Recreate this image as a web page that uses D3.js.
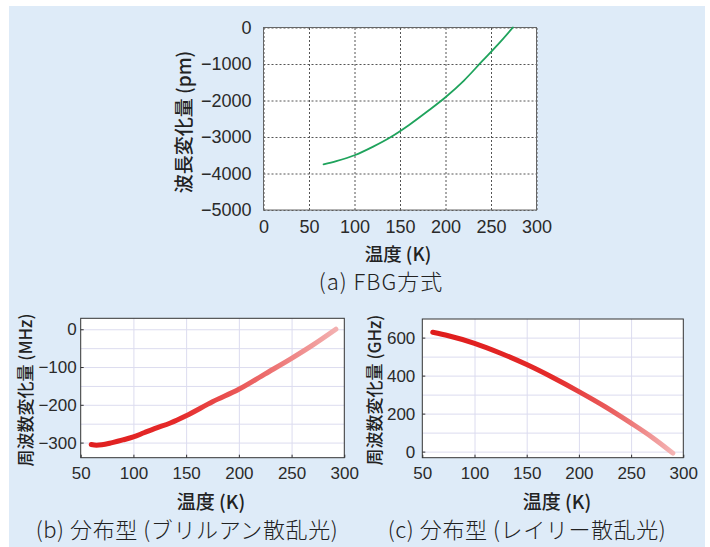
<!DOCTYPE html>
<html><head><meta charset="utf-8">
<script src="https://cdn.jsdelivr.net/npm/d3@7"></script>
<style>
body{margin:0;background:#fff;}
svg{display:block;}
</style></head>
<body>
<svg id="c" width="710" height="547"></svg>
<script>
// ---- data ----
const fbgT = [66, 80, 100, 120, 140, 160, 180, 200, 220, 240, 260, 274];
const fbgV = [-3750, -3660, -3500, -3270, -3000, -2670, -2300, -1910, -1460, -930, -400, 0];
const brT = [60, 65, 70, 80, 90, 100, 110, 120, 135, 150, 175, 200, 225, 250, 270, 292];
const brV = [-305, -307, -306, -300, -293, -285, -274, -263, -248, -229, -192, -159, -118, -77, -42, 0];
const rlT = [60, 75, 100, 125, 150, 175, 200, 225, 250, 270, 290];
const rlV = [628, 610, 570, 518, 458, 390, 316, 237, 150, 76, -8];
const fbgXTicks = [0, 50, 100, 150, 200, 250, 300];
const fbgYTicks = [0, -1000, -2000, -3000, -4000, -5000];
const bXTicks = [50, 100, 150, 200, 250, 300];
const brYTicks = [0, -100, -200, -300];
const rlYTicks = [0, 200, 400, 600];
const titles = {
  a: {y: "波長変化量 (pm)", x: "温度 (K)", cap: "(a) FBG方式"},
  b: {y: "周波数変化量 (MHz)", x: "温度 (K)", cap: "(b) 分布型 (ブリルアン散乱光)"},
  c: {y: "周波数変化量 (GHz)", x: "温度 (K)", cap: "(c) 分布型 (レイリー散乱光)"}
};

const svg = d3.select("#c");
const NUM = "'Liberation Sans', Arial, sans-serif";
const JP = "'Noto Sans CJK JP', sans-serif";
const fmt = d => (d < 0 ? "\u2212" + Math.abs(d) : String(d));

svg.append("rect").attr("x", 9).attr("y", 6).attr("width", 696).attr("height", 541).attr("fill", "#deebf8");

const defs = svg.append("defs");

function panel(o) {
  const x = d3.scaleLinear().domain(o.xd).range([o.x0, o.x1]);
  const y = d3.scaleLinear().domain(o.yd).range([o.y1, o.y0]);
  const g = svg.append("g");
  g.append("rect").attr("x", o.x0).attr("y", o.y0).attr("width", o.x1 - o.x0).attr("height", o.y1 - o.y0).attr("fill", "#fff");
  // grid
  const gx = g.append("g").attr("transform", `translate(0,${o.y1})`)
    .call(d3.axisBottom(x).tickValues(o.gridX).tickSize(-(o.y1 - o.y0)).tickFormat(""));
  const gy = g.append("g").attr("transform", `translate(${o.x0},0)`)
    .call(d3.axisLeft(y).tickValues(o.gridY).tickSize(-(o.x1 - o.x0)).tickFormat(""));
  [gx, gy].forEach(a => {
    a.select(".domain").remove();
    a.selectAll("line").attr("stroke", o.gridColor).attr("stroke-width", 1).attr("stroke-dasharray", o.gridDash || null);
  });
  // axes with labels
  const ax = g.append("g").attr("transform", `translate(0,${o.y1})`)
    .call(d3.axisBottom(x).tickValues(o.xTicks).tickSize(o.tick).tickPadding(o.xPad).tickFormat(fmt));
  const ay = g.append("g").attr("transform", `translate(${o.x0},0)`)
    .call(d3.axisLeft(y).tickValues(o.yTicks).tickSize(o.tick).tickPadding(o.yPad).tickFormat(fmt));
  [ax, ay].forEach(a => {
    a.select(".domain").remove();
    a.selectAll("line").attr("stroke", "#333");
    a.selectAll("text").attr("font-family", NUM).attr("font-size", o.fs).attr("fill", "#2a2a2a");
  });
  g.append("rect").attr("x", o.x0).attr("y", o.y0).attr("width", o.x1 - o.x0).attr("height", o.y1 - o.y0)
    .attr("fill", "none").attr("stroke", o.frame).attr("stroke-width", 1);
  // data line
  const pts = o.T.map((t, i) => [t, o.V[i]]);
  const line = d3.line().x(d => x(d[0])).y(d => y(d[1])).curve(d3.curveMonotoneX);
  let stroke = o.color;
  if (o.grad) {
    const id = "gr" + o.key;
    const lg = defs.append("linearGradient").attr("id", id).attr("gradientUnits", "userSpaceOnUse")
      .attr("x1", x(o.T[0])).attr("x2", x(o.T[o.T.length - 1])).attr("y1", 0).attr("y2", 0);
    o.grad.forEach(s => lg.append("stop").attr("offset", s[0]).attr("stop-color", s[1]));
    stroke = `url(#${id})`;
  }
  g.append("path").datum(pts).attr("d", line).attr("fill", "none").attr("stroke", stroke)
    .attr("stroke-width", o.lw).attr("stroke-linecap", "round");
  // titles
  const t = titles[o.key];
  g.append("text").attr("transform", `translate(${o.ytx},${o.tyc}) rotate(-90)`).attr("text-anchor", "middle")
    .attr("dominant-baseline", "central").attr("font-family", JP).attr("font-size", o.ytfs).attr("font-weight", 500)
    .attr("fill", "#222").text(t.y);
  g.append("text").attr("x", o.xtx).attr("y", o.xty).attr("text-anchor", "middle").attr("dominant-baseline", "central")
    .attr("font-family", JP).attr("font-size", o.xtfs).attr("font-weight", 500).attr("fill", "#222").text(t.x);
  g.append("text").attr("x", o.cx).attr("y", o.cy).attr("text-anchor", "middle").attr("dominant-baseline", "central")
    .attr("font-family", JP).attr("font-size", 22).attr("font-weight", 300).attr("letter-spacing", o.ls)
    .attr("fill", "#222").text(t.cap);
}

panel({key: "a", x0: 263.5, x1: 536.5, y0: 27.5, y1: 210, xd: [0, 300], yd: [-5000, 0],
  xTicks: fbgXTicks, yTicks: fbgYTicks, gridX: fbgXTicks, gridY: fbgYTicks,
  gridColor: "#555", gridDash: "2,2", frame: "#666", tick: 0, xPad: 10, yPad: 12, fs: 18,
  T: fbgT, V: fbgV, color: "#1fa35c", lw: 1.8,
  ytx: 182, tyc: 122, xtx: 398, xty: 253, cx: 381, cy: 280, ytfs: 19, xtfs: 18.5, ls: 1});

panel({key: "b", x0: 80.7, x1: 344.3, y0: 318.3, y1: 457.7, xd: [50, 300], yd: [-340, 29],
  xTicks: bXTicks, yTicks: brYTicks, gridX: [100, 150, 200, 250],
  gridY: [0, -50, -100, -150, -200, -250, -300],
  gridColor: "#dcdcef", frame: "#333", tick: -3, xPad: 9, yPad: 4, fs: 17,
  T: brT, V: brV, lw: 5,
  grad: [[0, "#e01f1f"], [0.35, "#e52a2a"], [0.7, "#ec6a6a"], [1, "#f3b0b0"]],
  ytx: 24, tyc: 390, xtx: 211, xty: 500, cx: 187, cy: 528, ytfs: 17, xtfs: 19, ls: 0.6});

panel({key: "c", x0: 422.3, x1: 683.3, y0: 319, y1: 457.7, xd: [50, 300], yd: [-32, 698],
  xTicks: bXTicks, yTicks: rlYTicks, gridX: [100, 150, 200, 250],
  gridY: [0, 100, 200, 300, 400, 500, 600],
  gridColor: "#dcdcef", frame: "#333", tick: -3, xPad: 9, yPad: 7, fs: 17,
  T: rlT, V: rlV, lw: 5,
  grad: [[0, "#df1c1c"], [0.5, "#e42a2a"], [0.75, "#ea6060"], [1, "#f4b4b4"]],
  ytx: 373, tyc: 390, xtx: 557, xty: 500, cx: 527, cy: 528, ytfs: 17, xtfs: 19, ls: 0.6});
</script>
</body></html>
